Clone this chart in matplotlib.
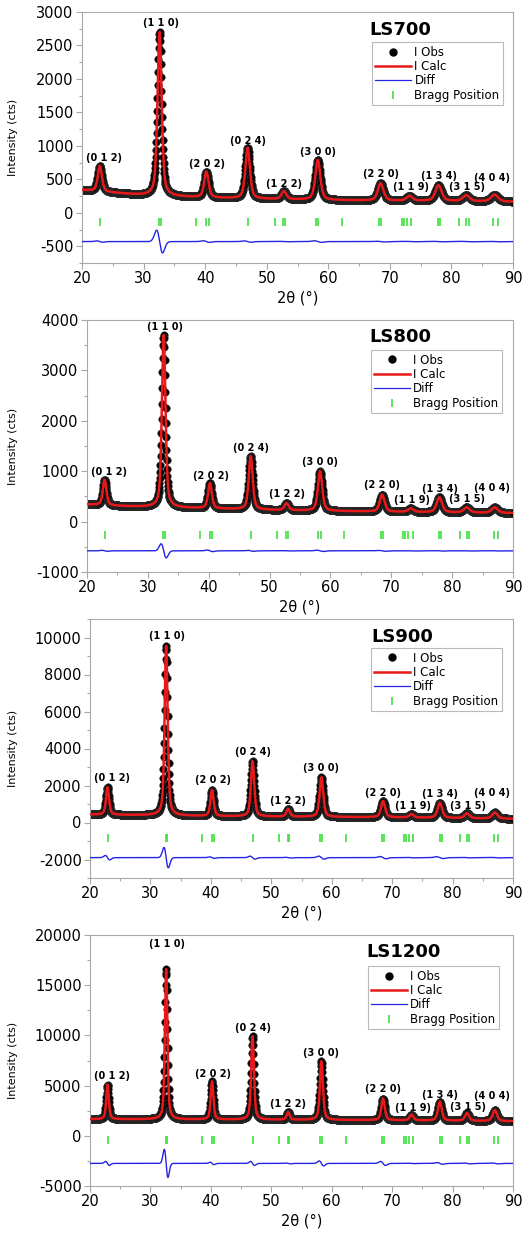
import numpy as np
import matplotlib.pyplot as plt
from matplotlib.lines import Line2D
from matplotlib.ticker import MultipleLocator

plt.rcParams['font.family'] = ['DejaVu Sans']
plt.rcParams['axes.unicode_minus'] = False

# DATOS
muestras = ["LS700", "LS800", "LS900", "LS1200"]
hkl = ["(0 1 2)", "(1 1 0)", "(2 0 2)", "(0 2 4)", "(1 2 2)", "(3 0 0)",
       "(2 2 0)", "(1 1 9)", "(1 3 4)", "(3 1 5)", "(4 0 4)"]
pos_pico = [22.9, 32.6, 40.2, 46.9, 52.8, 58.3, 68.5, 73.2, 77.9, 82.4, 87.0]
ancho_rel = [1.0, 1.0, 1.05, 1.1, 1.15, 1.2, 1.35, 1.4, 1.5, 1.6, 1.7]

# intensidad en la cima de cada pico (cts)
top_ls700 = [700, 2700, 610, 970, 320, 790, 440, 250, 410, 260, 270]
top_ls800 = [830, 3700, 760, 1300, 360, 1000, 530, 260, 480, 280, 280]
top_ls900 = [1900, 9550, 1750, 3320, 720, 2440, 1150, 450, 1060, 490, 540]
top_ls1200 = [5100, 16600, 5400, 9900, 2350, 7400, 3700, 2100, 3400, 2250, 2550]

# fondo
bg_x = [20, 25, 30, 40, 50, 60, 70, 80, 90]
bg_ls700 = [340, 300, 260, 225, 205, 190, 180, 175, 165]
bg_ls800 = [340, 310, 290, 260, 230, 210, 195, 180, 170]
bg_ls900 = [430, 410, 390, 340, 320, 300, 280, 240, 200]
bg_ls1200 = [1650, 1650, 1640, 1620, 1600, 1580, 1550, 1500, 1450]

# amplitud de la diferencia en cada pico
diff_ls700 = [10, 170, 12, 10, 3, 12, 5, 3, 3, 3, 3]
diff_ls800 = [10, 140, 15, 10, 3, 12, 8, 3, 5, 3, 3]
diff_ls900 = [120, 550, 40, 80, 20, 80, 60, 10, 50, 10, 15]
diff_ls1200 = [200, 1400, 120, 200, 40, 250, 200, 20, 80, 40, 40]

fwhm = [0.8, 0.7, 0.6, 0.5]

bragg_pos = [22.9, 32.5, 32.8, 38.5, 40.2, 40.6, 46.9, 51.3, 52.7, 53.0,
             58.0, 58.4, 62.3, 68.3, 68.6, 71.9, 72.3, 72.8, 73.5, 77.9,
             78.2, 81.3, 82.4, 82.8, 86.8, 87.6]

tops = [top_ls700, top_ls800, top_ls900, top_ls1200]
fondos = [bg_ls700, bg_ls800, bg_ls900, bg_ls1200]
difs = [diff_ls700, diff_ls800, diff_ls900, diff_ls1200]

# POSICIONES Y ESTILO
cajas = [(82, 12, 513, 263), (87, 320, 513, 572), (90, 619, 513, 878), (90, 935, 513, 1186)]
ylims = [(-750, 3000), (-1000, 4000), (-3000, 11000), (-5000, 20000)]
ypaso = [500, 1000, 2000, 5000]
off_diff = [-430, -580, -1900, -2750]
y_bragg = [-140, -270, -830, -400]
titulo_xy = [(0.738, 0.928), (0.735, 0.933), (0.738, 0.93), (0.742, 0.932)]
leyenda_xy = [(0.977, 0.88), (0.974, 0.881), (0.974, 0.888), (0.967, 0.876)]
lab_x = [23.6, 32.8, 40.3, 46.9, 52.8, 58.3, 68.5, 73.4, 78.0, 82.5, 86.6]
lab_y = [
    [825, 2830, 735, 1075, 435, 915, 575, 390, 550, 390, 525],
    [990, 3870, 900, 1470, 550, 1180, 730, 420, 650, 450, 670],
    [2380, 10090, 2290, 3830, 1170, 2920, 1570, 880, 1530, 900, 1570],
    [5970, 19100, 6170, 10710, 3150, 8220, 4640, 2750, 4080, 2850, 4010],
]

rojo = "#e8191b"
azul = "#2424e6"
verde = "#3ee03e"
gris = "#a8a8a8"

W, H = 527, 1234
fig = plt.figure(figsize=(W / 100, H / 100), dpi=100)

x = np.arange(20, 90.001, 0.05)


def perfil(top, fondo, w0):
    y = np.interp(x, bg_x, fondo)
    for p, t, f in zip(pos_pico, top, ancho_rel):
        w = w0 * f
        h = t - np.interp(p, bg_x, fondo)
        u = (x - p) / w
        y = y + h * (0.5 * np.exp(-4 * np.log(2) * u ** 2) + 0.5 / (1 + 4 * u ** 2))
    return y


def residuo(amps, w0):
    r = np.zeros_like(x)
    for p, a, f in zip(pos_pico, amps, ancho_rel):
        u = (x - p) / (w0 * f * 0.6)
        r = r - a * u * np.exp(-u ** 2 / 2) / 0.6065
    return r


for i in range(4):
    l, t, r, b = cajas[i]
    ax = fig.add_axes([l / W, (H - b) / H, (r - l) / W, (b - t) / H])

    calc = perfil(tops[i], fondos[i], fwhm[i])
    res = residuo(difs[i], fwhm[i])
    obs = calc + res * 0.3

    ax.plot(x, obs, "o", ms=5.4, color="black", mec="#303030", mew=0.4, zorder=2)
    ax.plot(x, calc, "-", color=rojo, lw=1.8, zorder=3)
    ax.plot(x, res + off_diff[i], "-", color=azul, lw=1.0, zorder=3)
    ax.plot(bragg_pos, [y_bragg[i]] * len(bragg_pos), "|", ms=6, mew=1.2,
            color=verde, zorder=3)

    for k in range(len(hkl)):
        ax.text(lab_x[k], lab_y[i][k], hkl[k], ha="center", va="center",
                fontsize=7, fontweight="bold")

    tx, ty = titulo_xy[i]
    ax.text(tx, ty, muestras[i], transform=ax.transAxes, ha="center",
            va="center", fontsize=13, fontweight="bold")

    handles = [
        Line2D([], [], ls="none", marker="o", ms=5, color="black"),
        Line2D([], [], color=rojo, lw=1.8),
        Line2D([], [], color=azul, lw=0.9),
        Line2D([], [], ls="none", marker="|", ms=6, mew=1.2, color=verde),
    ]
    leg = ax.legend(handles, ["I Obs", "I Calc", "Diff", "Bragg Position"],
                    loc="upper right", bbox_to_anchor=leyenda_xy[i],
                    fontsize=8.5, frameon=True, fancybox=False, borderpad=0.3,
                    labelspacing=0.12, handlelength=3.0, handletextpad=0.3,
                    borderaxespad=0.0)
    leg.get_frame().set_edgecolor(gris)
    leg.get_frame().set_linewidth(0.8)

    ax.set_xlim(20, 90)
    ax.set_ylim(*ylims[i])
    ax.xaxis.set_major_locator(MultipleLocator(10))
    ax.xaxis.set_minor_locator(MultipleLocator(5))
    ax.yaxis.set_major_locator(MultipleLocator(ypaso[i]))
    ax.yaxis.set_minor_locator(MultipleLocator(ypaso[i] / 2))
    ax.tick_params(which="major", direction="out", length=4, width=0.8,
                   color=gris, labelsize=10.5, pad=2)
    ax.tick_params(which="minor", direction="out", length=2, width=0.8, color=gris)
    for s in ax.spines.values():
        s.set_color(gris)
        s.set_linewidth(0.8)

    ax.set_xlabel("2θ (°)", fontsize=10.5, labelpad=3)
    ax.set_ylabel("Intensity (cts)", fontsize=8)
    ax.yaxis.set_label_coords((18 - l) / (r - l), 0.5)

fig.savefig("out.png", dpi=100)
